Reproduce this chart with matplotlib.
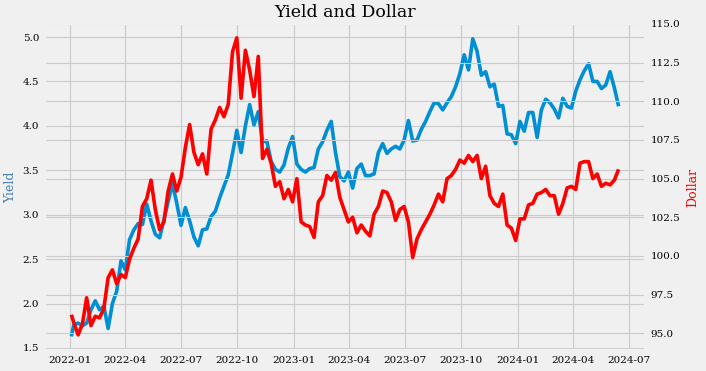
"""Yield vs Dollar: 10Y Treasury yield (left) and dollar index (right), weekly closes."""
import matplotlib

matplotlib.use("Agg")
import matplotlib.dates as mdates  # noqa: E402
import matplotlib.pyplot as plt  # noqa: E402
import pandas as pd  # noqa: E402

# first trading day, then weekly Friday closes
dates = pd.DatetimeIndex(["2022-01-03"]).append(
    pd.date_range("2022-01-07", "2024-06-14", freq="W-FRI"))

yield_10y = [
    # 2022
    1.63, 1.76, 1.78, 1.75, 1.78, 1.93, 2.03, 1.93, 1.97, 1.72, 2.00, 2.14, 2.48,
    2.38, 2.72, 2.83, 2.90, 2.89, 3.12, 2.93, 2.78, 2.74, 2.94, 3.15, 3.35, 3.13,
    2.88, 3.08, 2.93, 2.75, 2.65, 2.83, 2.84, 2.98, 3.04, 3.19, 3.32, 3.45, 3.69,
    3.95, 3.70, 4.00, 4.24, 4.01, 4.16, 3.82, 3.83, 3.60, 3.51, 3.48, 3.56, 3.75,
    3.88,
    # 2023
    3.57, 3.51, 3.48, 3.52, 3.53, 3.74, 3.82, 3.95, 4.05, 3.70, 3.43, 3.38, 3.48,
    3.30, 3.52, 3.57, 3.44, 3.44, 3.46, 3.70, 3.80, 3.69, 3.74, 3.77, 3.74, 3.84,
    4.06, 3.83, 3.84, 3.96, 4.05, 4.16, 4.26, 4.25, 4.18, 4.26, 4.33, 4.44, 4.59,
    4.80, 4.63, 4.98, 4.84, 4.57, 4.61, 4.44, 4.47, 4.22, 4.23, 3.91, 3.90, 3.80,
    # 2024
    4.05, 3.94, 4.15, 4.15, 3.87, 4.18, 4.30, 4.26, 4.19, 4.09, 4.31, 4.22, 4.20,
    4.39, 4.52, 4.62, 4.70, 4.50, 4.50, 4.42, 4.46, 4.61, 4.43, 4.22,
]

dollar = [
    # 2022
    96.2, 95.7, 94.9, 95.6, 97.3, 95.5, 96.1, 96.0, 96.6, 98.6, 99.1, 98.2, 98.8,
    98.6, 99.8, 100.5, 101.1, 103.2, 103.7, 104.9, 103.0, 101.7, 102.2, 104.2, 105.3,
    104.2, 105.1, 107.0, 108.5, 106.7, 105.9, 106.6, 105.3, 108.2, 108.8, 109.6, 109.0,
    109.8, 113.2, 114.1, 110.2, 113.3, 112.0, 110.3, 112.9, 106.3, 106.9, 106.0, 104.5,
    104.8, 103.7, 104.3, 103.5,
    # 2023
    105.0, 102.2, 102.0, 101.9, 101.2, 103.5, 103.9, 105.2, 104.9, 105.4, 103.8, 103.0,
    102.2, 102.5, 101.5, 102.0, 101.6, 101.3, 102.7, 103.2, 104.2, 104.1, 103.5, 102.3,
    103.0, 103.2, 102.2, 99.9, 101.1, 101.7, 102.2, 102.7, 103.3, 104.0, 103.5, 105.0,
    105.2, 105.6, 106.2, 106.0, 106.5, 106.1, 106.5, 105.0, 105.8, 103.9, 103.4, 103.2,
    104.0, 102.0, 101.8, 101.0,
    # 2024
    102.4, 102.4, 103.3, 103.4, 104.0, 104.1, 104.3, 103.9, 103.9, 102.7, 103.4, 104.4,
    104.5, 104.3, 106.0, 106.1, 106.1, 105.0, 105.3, 104.5, 104.7, 104.6, 104.9, 105.6,
]

YIELD_TICKS = [1.5, 2.0, 2.5, 3.0, 3.5, 4.0, 4.5, 5.0]
DOLLAR_TICKS = [95.0, 97.5, 100.0, 102.5, 105.0, 107.5, 110.0, 112.5, 115.0]

assert len(dates) == len(yield_10y) == len(dollar)

plt.style.use("fivethirtyeight")
plt.rcParams["font.family"] = "DejaVu Serif"
plt.rcParams["xtick.labelsize"] = 7.5
plt.rcParams["ytick.labelsize"] = 7.5
plt.rcParams["grid.linewidth"] = 0.8

fig, ax1 = plt.subplots(figsize=(7.06, 3.71), dpi=100)
fig.subplots_adjust(left=0.0623, right=0.915, top=0.938, bottom=0.054)

ax1.plot(dates, yield_10y, color="#008fd5", lw=2.6)
ax1.set_ylim(1.466, 5.158)
ax1.set_yticks(YIELD_TICKS)
ax1.set_ylabel("Yield", color="steelblue", fontsize=9)
ax1.xaxis.set_major_locator(mdates.MonthLocator(bymonth=[1, 4, 7, 10]))
ax1.xaxis.set_major_formatter(mdates.DateFormatter("%Y-%m"))

ax2 = ax1.twinx()
ax2.plot(dates, dollar, color="red", lw=2.6)
ax2.set_ylim(93.86, 115.06)
ax2.set_yticks(DOLLAR_TICKS)
ax2.set_ylabel("Dollar", color="red", fontsize=9)

ax1.set_title("Yield and Dollar", fontsize=12.5, pad=4)

fig.savefig("out.png", dpi=100)
